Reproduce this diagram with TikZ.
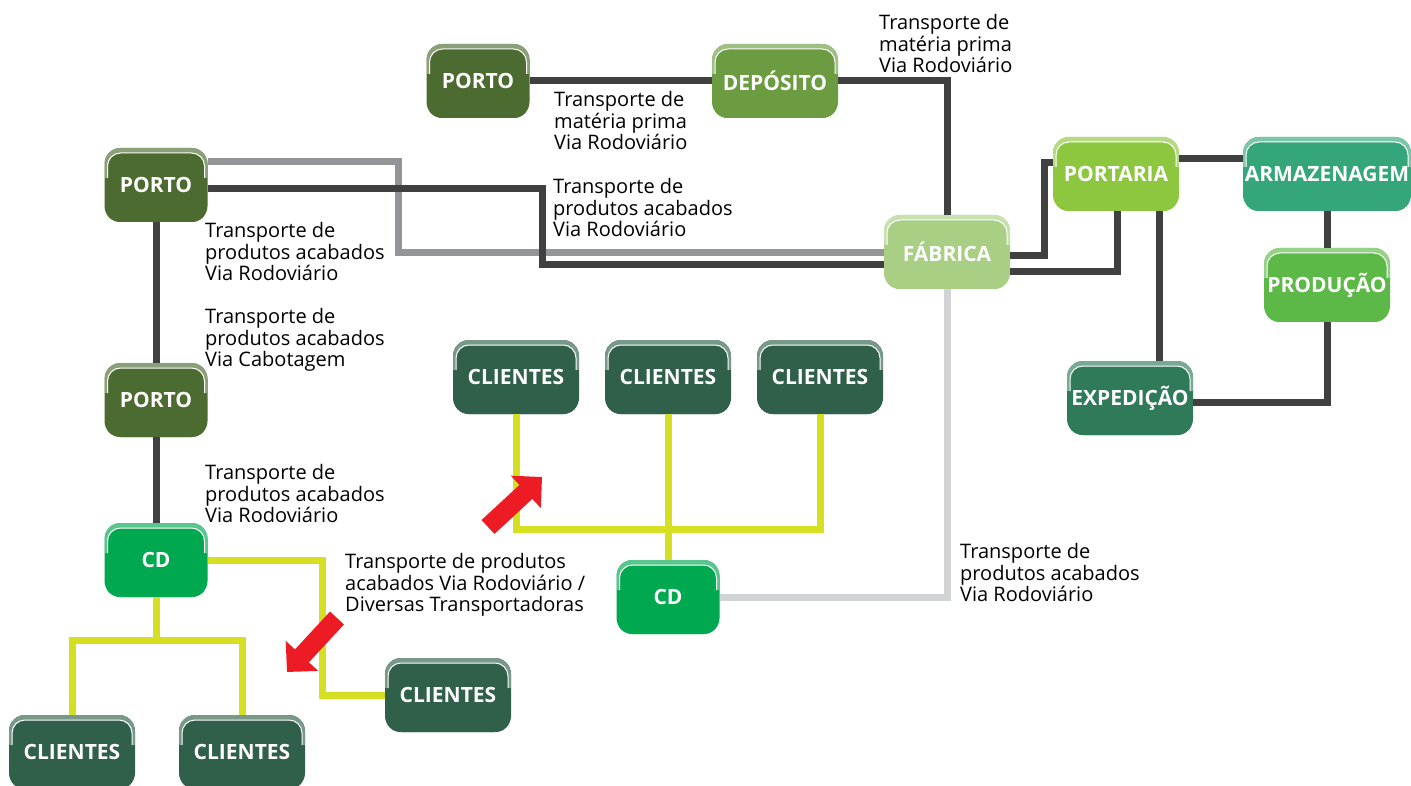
\documentclass[tikz,border=0pt]{standalone}
\usepackage{fontspec}
\setmainfont{Open Sans}
\usetikzlibrary{arrows.meta, calc}

\definecolor{corporto}{HTML}{4C6B30}
\definecolor{cordeposito}{HTML}{6C9C41}
\definecolor{corfabrica}{HTML}{A8CF84}
\definecolor{corportaria}{HTML}{8DC63F}
\definecolor{corarmazenagem}{HTML}{35A679}
\definecolor{corproducao}{HTML}{5CB947}
\definecolor{corexpedicao}{HTML}{2F7A59}
\definecolor{corclientes}{HTML}{30604A}
\definecolor{corcd}{HTML}{00A94F}
\definecolor{linhaescura}{HTML}{404041}
\definecolor{linhacinza}{HTML}{939598}
\definecolor{linhaclara}{HTML}{D1D3D4}
\definecolor{linhaamarela}{HTML}{D7DF23}
\definecolor{corseta}{HTML}{ED1C24}

\begin{document}
\begin{tikzpicture}[x=1pt,y=-1pt]

\tikzstyle{caixa}  = [
  rectangle,
  rounded corners=16pt,
  minimum width=126pt,
  minimum height=74pt,
  inner sep=0pt,
  text=white,
  font=\bfseries\fontsize{21}{21}\selectfont,
  fill=#1,
  path picture={
    \fill[#1!65!white, sharp corners] (path picture bounding box.north west) rectangle ([yshift=-30pt]path picture bounding box.north east);
    \fill[#1, rounded corners=13pt] ([xshift=3pt,yshift=-5pt]path picture bounding box.north west) rectangle ([xshift=-3pt,yshift=-20pt]path picture bounding box.south east);
    \draw[white, line width=1pt, rounded corners=13pt] ([xshift=3pt,yshift=-30pt]path picture bounding box.north west) -- ([xshift=3pt,yshift=-5pt]path picture bounding box.north west) -- ([xshift=-3pt,yshift=-5pt]path picture bounding box.north east) -- ([xshift=-3pt,yshift=-30pt]path picture bounding box.north east);
  }]
\tikzstyle{estreita} = [minimum width=103pt]
\tikzstyle{escura}   = [line width=7pt, linhaescura]
\tikzstyle{cinza}    = [line width=7pt, linhacinza]
\tikzstyle{clara}    = [line width=7pt, linhaclara]
\tikzstyle{amarela}  = [line width=7pt, linhaamarela]
\tikzstyle{seta}     = [line width=19pt, corseta, -{Triangle[length=22pt,width=43pt]}]
\tikzstyle{rotulo}   = [anchor=north west, align=left, inner sep=0pt, font=\fontsize{20}{21.8}\selectfont]

\useasboundingbox (0,0) rectangle (1411,786);

\node[caixa=corporto, estreita] (portob) at (478,81) {PORTO};
\node[caixa=cordeposito] (deposito) at (775,81) {DEPÓSITO};
\node[caixa=corporto, estreita] (portoa) at (156,185) {PORTO};
\node[caixa=corporto, estreita] (portoc) at (156,400) {PORTO};
\node[caixa=corcd, estreita] (cda) at (156,560) {CD};
\node[caixa=corfabrica] (fabrica) at (947,252) {FÁBRICA};
\node[caixa=corportaria] (portaria) at (1116,174) {PORTARIA};
\node[caixa=corarmazenagem, minimum width=168pt] (armazenagem) at (1327,174) {ARMAZENAGEM};
\node[caixa=corproducao] (producao) at (1327,285) {PRODUÇÃO};
\node[caixa=corexpedicao] (expedicao) at (1130,398) {EXPEDIÇÃO};
\node[caixa=corclientes] (clientesa) at (516,377) {CLIENTES};
\node[caixa=corclientes] (clientesb) at (668,377) {CLIENTES};
\node[caixa=corclientes] (clientesc) at (820,377) {CLIENTES};
\node[caixa=corcd, estreita] (cdb) at (668,597) {CD};
\node[caixa=corclientes] (clientesd) at (448,695) {CLIENTES};
\node[caixa=corclientes] (clientese) at (72,752) {CLIENTES};
\node[caixa=corclientes] (clientesf) at (242,752) {CLIENTES};

\coordinate (dobraa) at (398,253);
\coordinate (dobrab) at (542,265);
\coordinate (dobrac) at (1044,163);
\coordinate (juncaoa) at (668,529);
\coordinate (juncaob) at (322,695);
\coordinate (juncaoc) at (156,640);

\draw[escura] (portob.east) -- (deposito.west);
\draw[escura] (deposito.east) -| (fabrica.north);
\draw[cinza] ([yshift=23pt]portoa.east) -| (dobraa) -- (fabrica.west |- dobraa);
\draw[escura] ([yshift=-4pt]portoa.east) -| (dobrab) -- (fabrica.west |- dobrab);
\draw[escura] (portoa.south) -- (portoc.north);
\draw[escura] (portoc.south) -- (cda.north);
\draw[escura] ([yshift=-4pt]fabrica.east) -| (dobrac) -- (portaria.west |- dobrac);
\draw[escura] ([yshift=-20pt]fabrica.east) -| ([xshift=1pt]portaria.south);
\draw[escura] ([yshift=15pt]portaria.east) -- ([yshift=15pt]armazenagem.west);
\draw[escura] ([xshift=43pt]portaria.south) -- ([xshift=29pt]expedicao.north);
\draw[escura] (armazenagem.south) -- (producao.north);
\draw[escura] (producao.south) |- ([yshift=-4pt]expedicao.east);

\draw[amarela] (clientesa.south) |- (juncaoa) -| (clientesc.south);
\draw[amarela] (clientesb.south) -- (cdb.north);
\draw[clara] (cdb.east) -| (fabrica.south);
\draw[amarela] (cda.east) -| (juncaob) -- (clientesd.west);
\draw[amarela] (cda.south) -- (juncaoc);
\draw[amarela] (clientese.north) |- (juncaoc) -| (clientesf.north);

\coordinate (setaa) at (488,527);
\coordinate (setab) at (542,477);
\coordinate (setac) at (337,618);
\coordinate (setad) at (287,672);
\draw[seta] (setaa) -- (setab);
\draw[seta] (setac) -- (setad);

\node[rotulo] (rotuloa) at (554,91) {Transporte de\\matéria prima\\Via Rodoviário};
\node[rotulo] (rotulob) at (879,14) {Transporte de\\matéria prima\\Via Rodoviário};
\node[rotulo] (rotuloc) at (553,178) {Transporte de\\produtos acabados\\Via Rodoviário};
\node[rotulo] (rotulod) at (205,222) {Transporte de\\produtos acabados\\Via Rodoviário};
\node[rotulo] (rotuloe) at (205,308) {Transporte de\\produtos acabados\\Via Cabotagem};
\node[rotulo] (rotulof) at (205,464) {Transporte de\\produtos acabados\\Via Rodoviário};
\node[rotulo] (rotulog) at (345,553) {Transporte de produtos\\acabados Via Rodoviário /\\Diversas Transportadoras};
\node[rotulo] (rotuloh) at (960,543) {Transporte de\\produtos acabados\\Via Rodoviário};

\end{tikzpicture}
\end{document}
